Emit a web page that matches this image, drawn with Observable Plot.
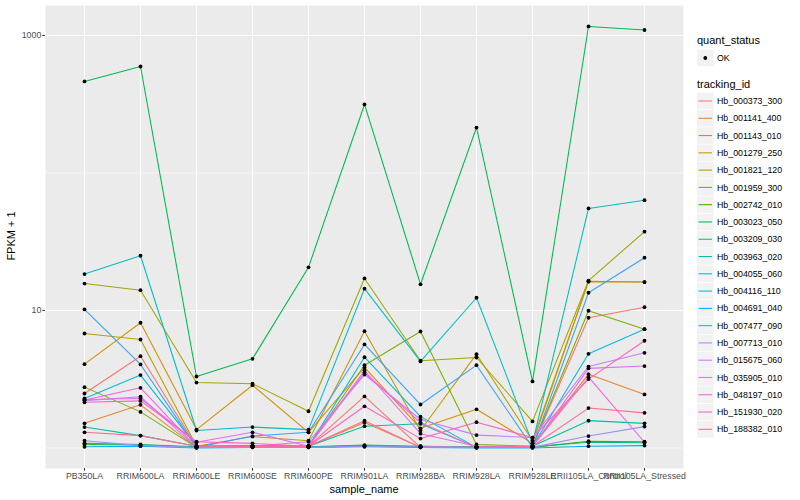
<!DOCTYPE html>
<html>
<head>
<meta charset="utf-8">
<script src="https://cdn.jsdelivr.net/npm/d3@7"></script>
<script src="https://cdn.jsdelivr.net/npm/@observablehq/plot@0.6"></script>
<style>
  html, body { margin: 0; padding: 0; background: white; }
  #chart { width: 800px; height: 500px; }
</style>
</head>
<body>
<div id="chart"></div>
<script>
const samples = ["PB350LA", "RRIM600LA", "RRIM600LE", "RRIM600SE", "RRIM600PE", "RRIM901LA",
  "RRIM928BA", "RRIM928LA", "RRIM928LE", "RRII105LA_Control", "RRII105LA_Stressed"];

const ids = ["Hb_000373_300", "Hb_001141_400", "Hb_001143_010", "Hb_001279_250", "Hb_001821_120",
  "Hb_001959_300", "Hb_002742_010", "Hb_003023_050", "Hb_003209_030", "Hb_003963_020",
  "Hb_004055_060", "Hb_004116_110", "Hb_004691_040", "Hb_007477_090", "Hb_007713_010",
  "Hb_015675_060", "Hb_035905_010", "Hb_048197_010", "Hb_151930_020", "Hb_188382_010"];

const colors = ["#F8766D", "#EA8331", "#D89000", "#C09B00", "#A3A500", "#7CAE00", "#39B600",
  "#00BB4E", "#00BF7D", "#00C1A3", "#00BFC4", "#00BAE0", "#00B0F6", "#35A2FF", "#9590FF",
  "#C77CFF", "#E76BF3", "#FA62DB", "#FF62BC", "#FF6C91"];

// FPKM per sample (same order as samples)
const fpkm_000373_300 = [1.49, 3.65, 0.03, 0.03, 0.03, 1.37, 0.01, 0.01, 0.03, 7.85, 9.57];
const fpkm_001141_400 = [0.51, 1.06, 0.01, 0.03, 0.03, 0.53, 0.01, 0.01, 0.03, 2.44, 1.45];
const fpkm_001143_010 = [3.07, 7.14, 0.36, 1.86, 0.30, 2.85, 0.39, 0.91, 0.08, 15.3, 15.1];
const fpkm_001279_250 = [5.80, 5.15, 0.03, 0.21, 0.13, 6.07, 0.34, 3.81, 0.13, 15.2, 15.1];
const fpkm_001821_120 = [14.7, 13.05, 1.99, 1.93, 0.85, 16.1, 3.31, 3.55, 0.56, 15.5, 36.4];
const fpkm_001959_300 = [1.77, 0.83, 0.01, 0.03, 0.03, 3.00, 6.03, 0.06, 0.03, 8.95, 6.31];
const fpkm_002742_010 = [0.06, 0.05, 0.01, 0.02, 0.01, 0.04, 0.02, 0.01, 0.01, 0.12, 0.11];
const fpkm_003023_050 = [462, 594, 2.31, 3.45, 19.6, 314, 14.5, 213, 2.05, 1162, 1095];
const fpkm_003209_030 = [0.08, 0.06, 0.02, 0.03, 0.02, 0.05, 0.03, 0.02, 0.02, 0.10, 0.09];
const fpkm_003963_020 = [0.42, 0.23, 0.03, 0.04, 0.03, 0.44, 0.50, 0.01, 0.03, 0.58, 0.51];
const fpkm_004055_060 = [17.4, 24.0, 0.34, 0.42, 0.36, 13.4, 3.26, 11.37, 0.08, 54.2, 62.4];
const fpkm_004116_110 = [1.29, 2.39, 0.03, 0.03, 0.03, 3.57, 0.69, 0.01, 0.03, 3.84, 6.31];
const fpkm_004691_040 = [0.02, 0.03, 0.00, 0.01, 0.01, 0.02, 0.01, 0.00, 0.00, 0.03, 0.04];
const fpkm_007477_090 = [9.17, 3.05, 0.01, 0.22, 0.30, 4.66, 1.07, 3.00, 0.01, 12.45, 23.2];
const fpkm_007713_010 = [0.13, 0.04, 0.01, 0.01, 0.01, 0.03, 0.03, 0.01, 0.01, 0.22, 0.43];
const fpkm_015675_060 = [1.21, 1.36, 0.01, 0.03, 0.11, 2.42, 0.61, 0.24, 0.19, 2.91, 3.92];
const fpkm_035905_010 = [1.25, 1.29, 0.10, 0.30, 0.03, 2.66, 0.27, 0.03, 0.03, 2.79, 2.94];
const fpkm_048197_010 = [1.23, 1.74, 0.01, 0.03, 0.03, 2.54, 0.53, 0.01, 0.03, 2.27, 0.10];
const fpkm_151930_020 = [1.15, 1.20, 0.11, 0.08, 0.03, 1.01, 0.17, 0.54, 0.19, 2.17, 5.02];
const fpkm_188382_010 = [0.30, 0.23, 0.03, 0.03, 0.03, 0.58, 0.01, 0.01, 0.03, 0.95, 0.80];

const series = [fpkm_000373_300, fpkm_001141_400, fpkm_001143_010, fpkm_001279_250, fpkm_001821_120,
  fpkm_001959_300, fpkm_002742_010, fpkm_003023_050, fpkm_003209_030, fpkm_003963_020,
  fpkm_004055_060, fpkm_004116_110, fpkm_004691_040, fpkm_007477_090, fpkm_007713_010,
  fpkm_015675_060, fpkm_035905_010, fpkm_048197_010, fpkm_151930_020, fpkm_188382_010];

const quantStatus = ["OK"];
const yTicks = [10, 1000];
const yMinor = [1, 100];

const rows = [];
ids.forEach((id, i) => samples.forEach((s, j) => rows.push({id, sample: s, fpkm: series[i][j], status: "OK"})));

const font = "'Liberation Sans', Arial, Helvetica, sans-serif";

const svg = Plot.plot({
  width: 800, height: 500,
  marginLeft: 45, marginRight: 117, marginTop: 5, marginBottom: 32,
  style: {fontFamily: font, fontSize: "8.8px", color: "#4D4D4D", background: "white", overflow: "visible"},
  x: {type: "point", domain: samples, padding: 0.6},
  y: {type: "log", domain: [0.709, 1652]},
  color: {domain: ids, range: colors},
  marks: [
    Plot.frame({fill: "#EBEBEB", stroke: null}),
    Plot.ruleY(yMinor, {stroke: "white", strokeWidth: 0.55}),
    Plot.ruleY(yTicks, {stroke: "white", strokeWidth: 1.1}),
    Plot.ruleX(samples, {stroke: "white", strokeWidth: 1.1}),
    Plot.line(rows, {x: "sample", y: d => d.fpkm + 1, z: "id", stroke: "id", strokeWidth: 1.07}),
    Plot.dot(rows, {x: "sample", y: d => d.fpkm + 1, r: 1.9, fill: "black", stroke: null}),
    Plot.axisX({tickSize: 2.7, tickPadding: 1.5, label: null, stroke: "#333333", fill: "#4D4D4D"}),
    Plot.axisY({ticks: yTicks, tickSize: 2.7, tickPadding: 1.5, tickFormat: d => String(d), label: null, stroke: "#333333", fill: "#4D4D4D"})
  ]
});

document.getElementById("chart").appendChild(svg);

const root = d3.select(svg);
// axis titles
root.append("text").attr("x", 364).attr("y", 493).attr("text-anchor", "middle")
  .attr("font-family", font).attr("font-size", 11).attr("fill", "black").text("sample_name");
root.append("text").attr("transform", "translate(15,236) rotate(-90)").attr("text-anchor", "middle")
  .attr("font-family", font).attr("font-size", 11).attr("fill", "black").text("FPKM + 1");

// legend
const lg = root.append("g").attr("font-family", font).attr("text-anchor", "start");
lg.append("text").attr("x", 697).attr("y", 44).attr("font-size", 11).attr("fill", "black").text("quant_status");
quantStatus.forEach((q, i) => {
  const cy = 58 + i * 17.28;
  lg.append("rect").attr("x", 697).attr("y", cy - 8.3).attr("width", 16.6).attr("height", 16.6).attr("fill", "#F2F2F2");
  lg.append("circle").attr("cx", 705.3).attr("cy", cy).attr("r", 1.9).attr("fill", "black");
  lg.append("text").attr("x", 717).attr("y", cy + 3.1).attr("font-size", 8.8).attr("fill", "black").text(q);
});
lg.append("text").attr("x", 697).attr("y", 88).attr("font-size", 11).attr("fill", "black").text("tracking_id");
ids.forEach((id, i) => {
  const cy = 101 + i * 17.28;
  lg.append("rect").attr("x", 697).attr("y", cy - 8.3).attr("width", 16.6).attr("height", 16.6).attr("fill", "#F2F2F2");
  lg.append("line").attr("x1", 698.5).attr("x2", 712).attr("y1", cy).attr("y2", cy)
    .attr("stroke", colors[i]).attr("stroke-width", 1.07);
  lg.append("text").attr("x", 717).attr("y", cy + 3.1).attr("font-size", 8.8).attr("fill", "black").text(id);
});
</script>
</body>
</html>
